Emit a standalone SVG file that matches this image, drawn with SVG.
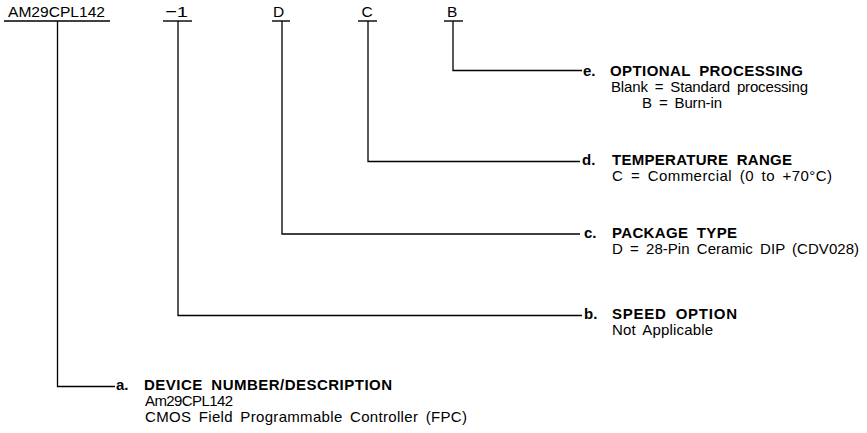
<svg xmlns="http://www.w3.org/2000/svg" width="867" height="433" viewBox="0 0 867 433">
<style>
  text { font-family: "Liberation Sans", Arial, Helvetica, sans-serif; fill: #000; }
  .top { font-size: 15.5px; }
  .hd { font-size: 15px; font-weight: bold; word-spacing: 4px; }
  .bd { font-size: 15px; word-spacing: 3px; }
  .ul { stroke: #000; stroke-width: 1.4; fill: none; }
  .conn { stroke: #000; stroke-width: 1.3; fill: none; }
</style>
<rect width="867" height="433" fill="#fff"/>

<g id="code">
  <g id="code-device">
    <text class="top" x="8" y="17" textLength="97" lengthAdjust="spacingAndGlyphs">AM29CPL142</text>
    <line class="ul" x1="4" y1="21" x2="110" y2="21"/>
  </g>
  <g id="code-speed">
    <text class="top" x="165" y="17" textLength="23" lengthAdjust="spacingAndGlyphs">−1</text>
    <line class="ul" x1="163" y1="21" x2="192" y2="21"/>
  </g>
  <g id="code-package">
    <text class="top" x="273" y="17">D</text>
    <line class="ul" x1="272" y1="21" x2="290" y2="21"/>
  </g>
  <g id="code-temp">
    <text class="top" x="361.5" y="17">C</text>
    <line class="ul" x1="358" y1="21" x2="377" y2="21"/>
  </g>
  <g id="code-opt">
    <text class="top" x="447" y="17">B</text>
    <line class="ul" x1="444" y1="21" x2="463" y2="21"/>
  </g>
</g>

<g id="connectors">
  <polyline class="conn" points="57.5,21 57.5,386.5 115,386.5"/>
  <polyline class="conn" points="178,21 178,315.5 582,315.5"/>
  <polyline class="conn" points="282,21 282,234 580,234"/>
  <polyline class="conn" points="368,21 368,161.5 580,161.5"/>
  <polyline class="conn" points="453,21 453,70.5 582,70.5"/>
</g>

<g id="desc-e">
  <text class="hd" x="583" y="76">e.</text>
  <text class="hd" x="610" y="76" textLength="193">OPTIONAL PROCESSING</text>
  <text class="bd" x="611" y="92" textLength="197">Blank = Standard processing</text>
  <text class="bd" x="642" y="108" textLength="80">B = Burn-in</text>
</g>

<g id="desc-d">
  <text class="hd" x="582" y="165">d.</text>
  <text class="hd" x="612" y="165" textLength="180">TEMPERATURE RANGE</text>
  <text class="bd" x="612" y="181" textLength="220">C = Commercial (0 to +70°C)</text>
</g>

<g id="desc-c">
  <text class="hd" x="584" y="238">c.</text>
  <text class="hd" x="612" y="238" textLength="125">PACKAGE TYPE</text>
  <text class="bd" x="612" y="254" textLength="247">D = 28-Pin Ceramic DIP (CDV028)</text>
</g>

<g id="desc-b">
  <text class="hd" x="584" y="319">b.</text>
  <text class="hd" x="612" y="319" textLength="125">SPEED OPTION</text>
  <text class="bd" x="612" y="335" textLength="101">Not Applicable</text>
</g>

<g id="desc-a">
  <text class="hd" x="116" y="390">a.</text>
  <text class="hd" x="144" y="390" textLength="248">DEVICE NUMBER/DESCRIPTION</text>
  <text class="bd" x="145" y="406" textLength="88">Am29CPL142</text>
  <text class="bd" x="145" y="422" textLength="322">CMOS Field Programmable Controller (FPC)</text>
</g>
</svg>
